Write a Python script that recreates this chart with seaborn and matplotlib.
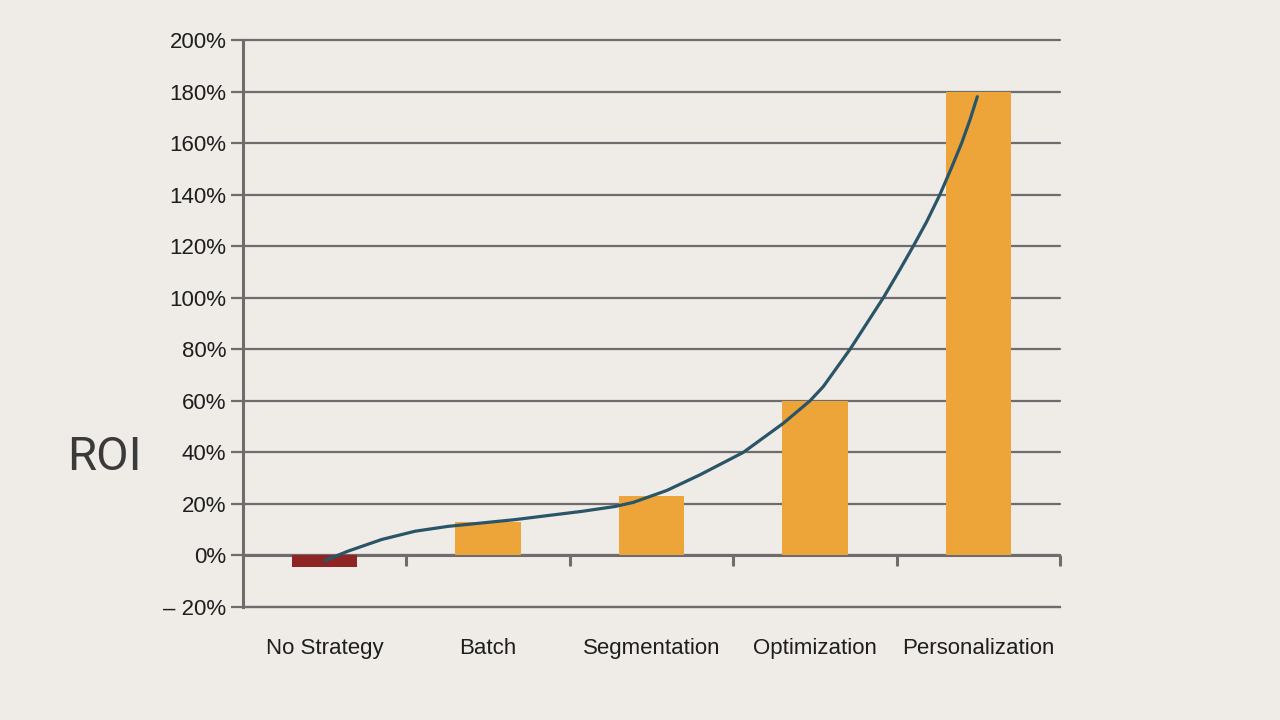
import matplotlib
matplotlib.use("Agg")
import matplotlib.pyplot as plt
import seaborn as sns
import pandas as pd

categories = ["No Strategy", "Batch", "Segmentation", "Optimization", "Personalization"]
roi_values = [-4.5, 13, 23, 60, 180]
bar_colors = ["#8E2424", "#EDA53A", "#EDA53A", "#EDA53A", "#EDA53A"]

curve_x = [0.0, 0.144, 0.349, 0.553, 0.756, 0.961, 1.165, 1.368, 1.573, 1.777, 1.889,
           2.093, 2.297, 2.562, 2.807, 2.970, 3.051, 3.215, 3.317, 3.419, 3.521, 3.602,
           3.684, 3.765, 3.837, 3.898, 3.949, 3.994]
curve_y = [-2.0, 1.7, 6.2, 9.4, 11.3, 12.6, 13.9, 15.5, 17.1, 19.0, 20.6,
           25.2, 31.3, 40, 51.3, 60, 65.5, 80, 90, 100, 111, 120,
           129.5, 140, 150.6, 160, 169, 178]

y_ticks = [-20, 0, 20, 40, 60, 80, 100, 120, 140, 160, 180, 200]
y_labels = ["\u2013 20%"] + [f"{v}%" for v in y_ticks[1:]]
boundary_ticks = [0.5, 1.5, 2.5, 3.5, 4.5]

bg = "#EFEBE7"
grid_c = "#6E6C6C"
sns.set_theme(style="white")
plt.rcParams["font.family"] = ["Liberation Sans", "DejaVu Sans"]

fig = plt.figure(figsize=(12.8, 7.2), dpi=100, facecolor=bg)
ax = fig.add_axes([243/1280, 1-607/720, (1060-243)/1280, (607-40)/720])
ax.set_facecolor(bg)

df = pd.DataFrame({"cat": categories, "roi": roi_values})
sns.barplot(data=df, x="cat", y="roi", hue="cat", palette=bar_colors, width=0.4,
            legend=False, ax=ax, saturation=1, linewidth=0, zorder=2)

ax.plot(curve_x, curve_y, color="#2A5568", lw=2.3, solid_capstyle="round",
        solid_joinstyle="round", zorder=3)

ax.set_xlim(-0.5, 4.5)
ax.set_ylim(-20, 200)
ax.set_yticks(y_ticks)
ax.set_yticklabels(y_labels)
ax.set_axisbelow(True)
ax.yaxis.grid(True, color=grid_c, lw=1.6, zorder=0)
for gl in ax.get_ygridlines():
    gl.set_clip_on(False)
ax.xaxis.grid(False)

for s in ["top", "right"]:
    ax.spines[s].set_visible(False)
ax.spines["left"].set_color(grid_c)
ax.spines["left"].set_linewidth(2.2)
ax.spines["bottom"].set_color(grid_c)
ax.spines["bottom"].set_linewidth(1.6)

ax.tick_params(axis="y", direction="out", length=9, width=1.6, color=grid_c,
               labelsize=16, labelcolor="#1E1E1E", pad=3, left=True)
ax.tick_params(axis="x", length=0, labelsize=16, labelcolor="#1E1E1E", pad=22)
ax.set_xlabel("")
ax.set_ylabel("")

# zero line with boundary ticks
ax.axhline(0, color=grid_c, lw=2.2, zorder=1)
sec = ax.secondary_xaxis(20/220)
sec.set_xticks(boundary_ticks)
sec.set_xticklabels([])
sec.tick_params(direction="out", length=8, width=2.2, color=grid_c)
sec.spines["bottom"].set_visible(False)

fig.text(104/1280, 1-457/720, "ROI", fontsize=34, family=["Roboto", "DejaVu Sans"],
         fontweight="normal", color="#3A3A3A", ha="center", va="center")

fig.savefig("out.png", dpi=100, facecolor=bg)
